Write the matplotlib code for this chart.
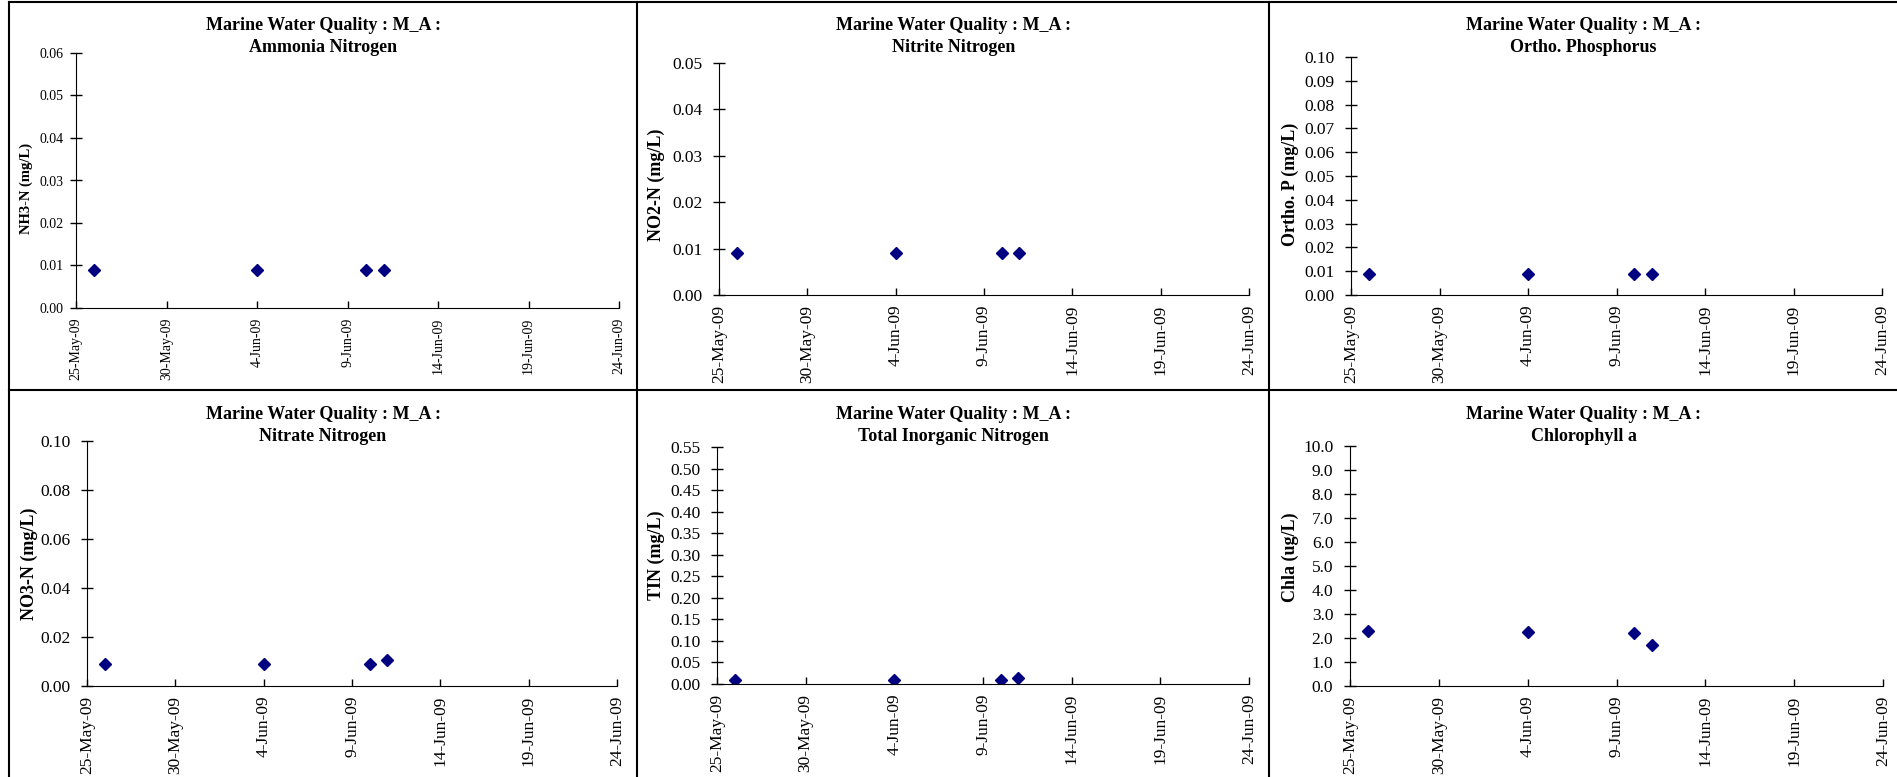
import numpy as np
import pandas as pd
import matplotlib
matplotlib.use("Agg")
import matplotlib.pyplot as plt
from matplotlib.lines import Line2D

plt.rcParams['font.family'] = ['Liberation Serif', 'DejaVu Serif']

# sampling dates and measured values (station M_A)
dates = pd.to_datetime(['2009-05-26', '2009-06-04', '2009-06-10', '2009-06-11'])
nh3 = [0.009, 0.009, 0.009, 0.009]
no2 = [0.009, 0.009, 0.009, 0.009]
orthop = [0.009, 0.009, 0.009, 0.009]
no3 = [0.009, 0.009, 0.009, 0.0105]
tin = [0.009, 0.009, 0.009, 0.014]
chla = [2.3, 2.25, 2.2, 1.7]

titles = ['Ammonia Nitrogen', 'Nitrite Nitrogen', 'Ortho. Phosphorus',
          'Nitrate Nitrogen', 'Total Inorganic Nitrogen', 'Chlorophyll a']
ylabels = ['NH3-N (mg/L)', 'NO2-N (mg/L)', 'Ortho. P (mg/L)',
           'NO3-N (mg/L)', 'TIN (mg/L)', 'Chla (ug/L)']
series = [nh3, no2, orthop, no3, tin, chla]
ymax = [0.06, 0.05, 0.10, 0.10, 0.55, 10.0]
ystep = [0.01, 0.01, 0.01, 0.02, 0.05, 1.0]
yfmt = ['%.2f', '%.2f', '%.2f', '%.2f', '%.2f', '%.1f']

xstart, xend = pd.Timestamp('2009-05-25'), pd.Timestamp('2009-06-24')
xticks = pd.date_range(xstart, xend, freq='5D')

#------------------------------------------------------------------#
W, H = 1897, 777
fig = plt.figure(figsize=(W/100, H/100), dpi=100)

# plot areas in pixels: left, right, top, bottom
boxes = [(76, 619, 53, 308), (719, 1249, 63, 295), (1351, 1882, 57, 295),
         (87, 617, 441, 686), (717, 1249, 447, 684), (1350, 1883, 446, 686)]
# panel horizontal extents (for centred titles) and title line y
panels = [(9, 637, 25), (637, 1270, 25), (1270, 1897, 25),
          (9, 637, 414), (637, 1270, 414), (1270, 1897, 414)]
ylab_x = [33, 665, 1299, 38, 665, 1299]
ylab_y = [0.47, 0.477, 0.466, 0.5, 0.545, 0.537]
small = [True, False, False, False, False, False]

for i in range(6):
    l, r, t, b = boxes[i]
    ax = fig.add_axes([l/W, 1 - b/H, (r-l)/W, (b-t)/H])
    ax.plot(dates, series[i], ls='none', marker='D', ms=5.8, color='#000080')
    ax.set_xlim(xstart, xend)
    ax.set_ylim(0, ymax[i])
    ax.set_yticks(np.arange(0, ymax[i] + ystep[i]/2, ystep[i]))
    ax.yaxis.set_major_formatter(plt.FormatStrFormatter(yfmt[i]))
    ax.set_xticks(xticks)
    ax.set_xticklabels([f"{d.day}-{d:%b-%y}" for d in xticks], rotation=90)
    fs = 10 if small[i] else 12.5
    ax.tick_params(axis='x', direction='in', length=5, pad=7, labelsize=fs, width=1)
    ax.tick_params(axis='y', direction='inout', length=8,
                   pad=5 if small[i] else 8, labelsize=fs, width=1)
    for s in ['top', 'right']:
        ax.spines[s].set_visible(False)
    ax.set_ylabel(ylabels[i], fontsize=10.5 if small[i] else 13, fontweight='bold')
    ax.yaxis.set_label_coords((ylab_x[i] - l)/(r - l), ylab_y[i])
    px0, px1, ty = panels[i]
    xc = (px0 + px1)/2/W
    fig.text(xc, 1 - ty/H, 'Marine Water Quality : M_A :', ha='center', va='center',
             fontsize=13, fontweight='bold')
    fig.text(xc, 1 - (ty + 23)/H, titles[i], ha='center', va='center',
             fontsize=13, fontweight='bold')

# panel borders
def hline(y, x0, x1):
    fig.add_artist(Line2D([x0/W, x1/W], [1 - y/H, 1 - y/H], color='black', lw=1.5))

def vline(x, y0, y1):
    fig.add_artist(Line2D([x/W, x/W], [1 - y0/H, 1 - y1/H], color='black', lw=1.5))

hline(2, 9, W)
hline(390, 9, W)
vline(9, 2, H)
vline(637, 2, H)
vline(1269, 2, H)

fig.savefig('out.png', dpi=100)
